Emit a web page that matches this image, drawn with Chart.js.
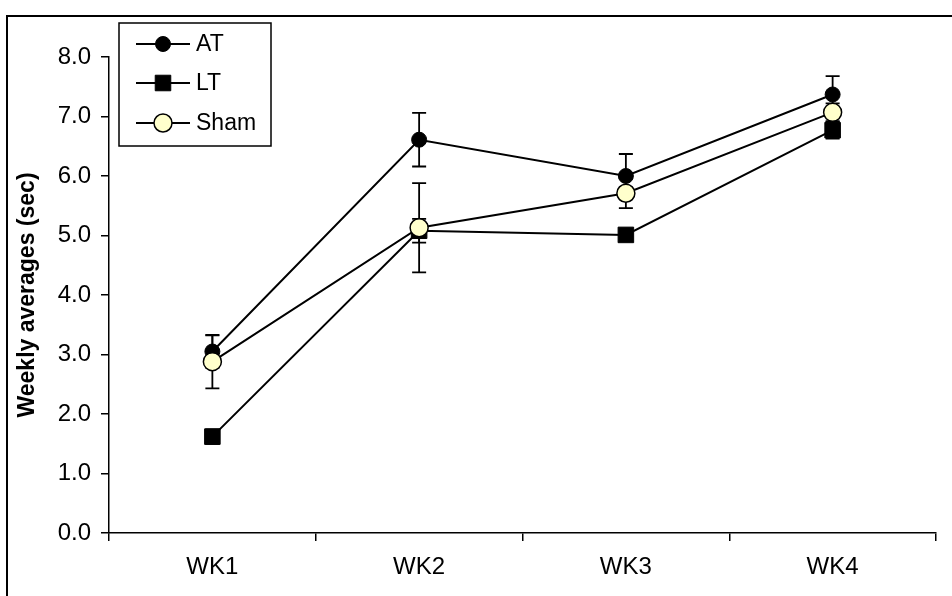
<!DOCTYPE html>
<html>
<head>
<meta charset="utf-8">
<script src="https://cdn.jsdelivr.net/npm/chart.js@4/dist/chart.umd.min.js"></script>
<style>
html,body{margin:0;padding:0;background:#fff;}
#wrap{width:952px;height:596px;position:relative;overflow:hidden;}
</style>
</head>
<body>
<div id="wrap"><canvas id="c" width="952" height="596"></canvas></div>
<script>
// ---- data ----
const categories = ['WK1', 'WK2', 'WK3', 'WK4'];
const seriesNames = ['AT', 'LT', 'Sham'];
const atValues   = [3.05, 6.61, 6.00, 7.37];
const atErrors   = [0.27, 0.45, 0.37, 0.31];
const ltValues   = [1.62, 5.08, 5.01, 6.77];
const ltErrors   = [0.12, 0.20, 0.10, 0.14];
const shamValues = [2.88, 5.13, 5.71, 7.07];
const shamErrors = [0.45, 0.75, 0.25, 0.15];
const yTickValues = [0, 1, 2, 3, 4, 5, 6, 7, 8];
const yAxisTitle = 'Weekly averages (sec)';

const FONT = "'Liberation Sans', Arial, sans-serif";

const datasets = [
  { label: seriesNames[0], data: atValues, errors: atErrors, order: 1,
    borderColor: '#000', borderWidth: 2, backgroundColor: '#000',
    pointStyle: 'circle', pointRadius: 7.5, pointBorderColor: '#000', pointBackgroundColor: '#000', pointBorderWidth: 1 },
  { label: seriesNames[1], data: ltValues, errors: ltErrors, order: 2,
    borderColor: '#000', borderWidth: 2, backgroundColor: '#000',
    pointStyle: 'rect', pointRadius: 11, pointBorderColor: '#000', pointBackgroundColor: '#000', pointBorderWidth: 1 },
  { label: seriesNames[2], data: shamValues, errors: shamErrors, order: 0,
    borderColor: '#000', borderWidth: 2, backgroundColor: '#ffffcc',
    pointStyle: 'circle', pointRadius: 9, pointBorderColor: '#000', pointBackgroundColor: '#ffffcc', pointBorderWidth: 1.5 }
];

const errorBarPlugin = {
  id: 'errorBars',
  beforeDatasetsDraw(chart) {
    const ctx = chart.ctx;
    const x = chart.scales.x, y = chart.scales.y;
    ctx.save();
    ctx.strokeStyle = '#000';
    ctx.lineWidth = 1.8;
    chart.data.datasets.forEach((ds) => {
      ds.data.forEach((v, i) => {
        const e = ds.errors[i];
        const px = x.getPixelForValue(i);
        const top = y.getPixelForValue(v + e);
        const bot = y.getPixelForValue(v - e);
        ctx.beginPath();
        ctx.moveTo(px, top); ctx.lineTo(px, bot);
        ctx.moveTo(px - 7, top); ctx.lineTo(px + 7, top);
        ctx.moveTo(px - 7, bot); ctx.lineTo(px + 7, bot);
        ctx.stroke();
      });
    });
    ctx.restore();
  }
};

const framePlugin = {
  id: 'frame',
  afterDraw(chart) {
    const ctx = chart.ctx;
    ctx.save();
    ctx.strokeStyle = '#000';
    ctx.lineWidth = 2;
    ctx.strokeRect(7, 16, 1000, 700);
    ctx.restore();
  }
};

const legendPlugin = {
  id: 'boxLegend',
  afterDraw(chart) {
    const ctx = chart.ctx;
    const box = { x: 119, y: 23, w: 152, h: 123 };
    const rowY = [44, 83, 123];
    ctx.save();
    ctx.fillStyle = '#fff';
    ctx.fillRect(box.x, box.y, box.w, box.h);
    ctx.strokeStyle = '#000';
    ctx.lineWidth = 1.5;
    ctx.strokeRect(box.x, box.y, box.w, box.h);
    const byLabel = {};
    chart.data.datasets.forEach(d => byLabel[d.label] = d);
    seriesNames.forEach((name, i) => {
      const d = byLabel[name];
      const yy = rowY[i];
      ctx.strokeStyle = '#000';
      ctx.lineWidth = 2;
      ctx.beginPath();
      ctx.moveTo(136, yy); ctx.lineTo(190, yy);
      ctx.stroke();
      ctx.fillStyle = d.pointBackgroundColor;
      ctx.strokeStyle = d.pointBorderColor;
      ctx.lineWidth = d.pointBorderWidth;
      Chart.helpers.drawPoint(ctx, { pointStyle: d.pointStyle, radius: d.pointRadius, borderWidth: d.pointBorderWidth, rotation: 0 }, 163, yy);
      ctx.fillStyle = '#000';
      ctx.font = '23px ' + FONT;
      ctx.textBaseline = 'middle';
      ctx.textAlign = 'left';
      ctx.fillText(name, 196, yy + 1);
    });
    ctx.restore();
  }
};

new Chart(document.getElementById('c'), {
  type: 'line',
  data: { labels: categories, datasets: datasets },
  options: {
    responsive: false,
    animation: false,
    devicePixelRatio: 1,
    layout: { padding: { top: 57, right: 16, left: 0, bottom: 0 } },
    plugins: { legend: { display: false }, tooltip: { enabled: false } },
    elements: { line: { tension: 0 } },
    scales: {
      x: {
        type: 'category',
        offset: true,
        grid: { display: true, drawOnChartArea: false, offset: true, tickLength: 8, color: '#000', lineWidth: 1.5 },
        border: { display: true, color: '#000', width: 1.5 },
        ticks: { color: '#000', font: { family: FONT, size: 24 }, padding: 12 },
        afterFit(s) { s.height = 63; }
      },
      y: {
        min: 0, max: 8,
        afterBuildTicks(s) { s.ticks = yTickValues.map(v => ({ value: v })); },
        grid: { display: true, drawOnChartArea: false, tickLength: 8, color: '#000', lineWidth: 1.5 },
        border: { display: true, color: '#000', width: 1.5 },
        ticks: { color: '#000', font: { family: FONT, size: 24 }, padding: 10, callback: v => Number(v).toFixed(1) },
        title: { display: true, text: yAxisTitle, color: '#000', font: { family: FONT, size: 23, weight: 'bold' }, padding: { top: 14, bottom: 0 } },
        afterFit(s) { s.width = 109; }
      }
    }
  },
  plugins: [errorBarPlugin, framePlugin, legendPlugin]
});
</script>
</body>
</html>
